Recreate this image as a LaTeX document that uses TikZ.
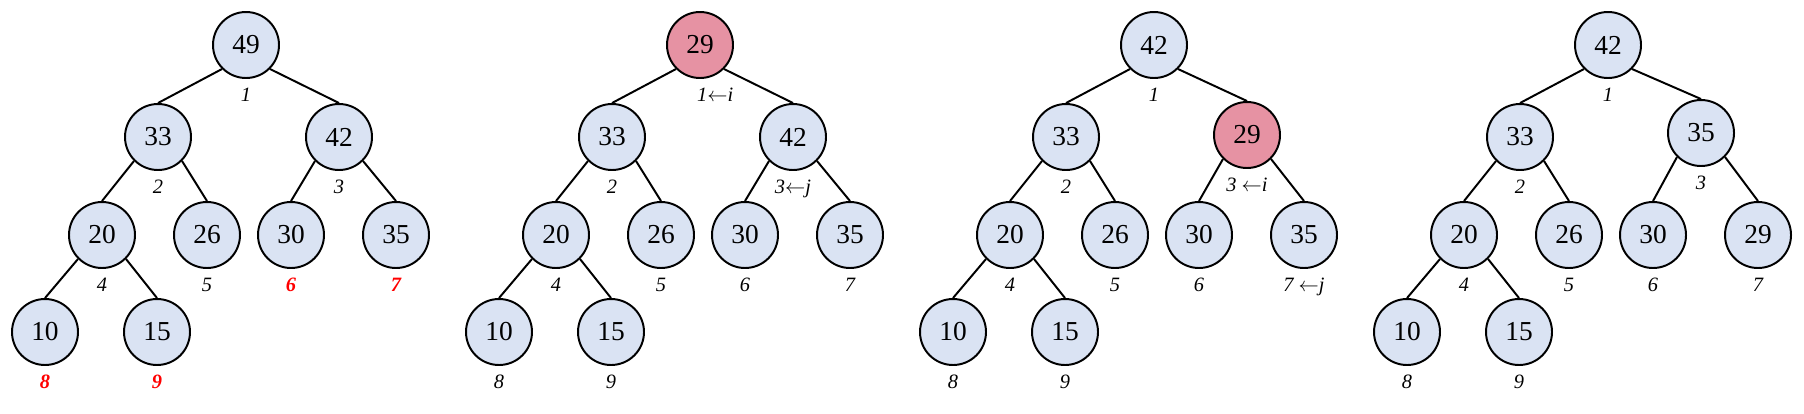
\documentclass[tikz,border=0pt]{standalone}
\usepackage{fontspec}
\setmainfont{Liberation Serif}
\usetikzlibrary{positioning}

\definecolor{heapblue}{RGB}{218,227,243}
\definecolor{heappink}{RGB}{230,146,163}

\tikzset{
  heapnode/.style={circle, draw=black, line width=1.4pt, fill=heapblue, minimum size=1.65cm, inner sep=0pt, font=\fontsize{19.5}{20}\selectfont},
  swapnode/.style={heapnode, fill=heappink},
  idx/.style={inner sep=0pt, font=\fontsize{14.5}{15}\selectfont\itshape},
  idxred/.style={idx, text=red, font=\fontsize{14.5}{15}\selectfont\bfseries\itshape},
  heapedge/.style={line width=1.4pt}
}

\begin{document}
\begin{tikzpicture}[label distance=0.22cm]

\useasboundingbox (0,0) rectangle (45.1,-10.325);

% tree 1: the heap before deletion
\def\offset{0}
 \node[heapnode, label={[idx]below:1}] (a1) at ({6.15+\offset}, -1.125) {49};
 \node[heapnode, label={[idx]below:2}] (a2) at ({3.95+\offset}, -3.425) {33};
 \node[heapnode, label={[idx]below:3}] (a3) at ({8.475+\offset}, -3.425) {42};
 \node[heapnode, label={[idx]below:4}] (a4) at ({2.55+\offset}, -5.875) {20};
 \node[heapnode, label={[idx]below:5}] (a5) at ({5.175+\offset}, -5.875) {26};
 \node[heapnode, label={[idxred]below:6}] (a6) at ({7.275+\offset}, -5.875) {30};
 \node[heapnode, label={[idxred]below:7}] (a7) at ({9.9+\offset}, -5.875) {35};
 \node[heapnode, label={[idxred]below:8}] (a8) at ({1.125+\offset}, -8.3) {10};
 \node[heapnode, label={[idxred]below:9}] (a9) at ({3.925+\offset}, -8.3) {15};
 \foreach \p/\c/\s in {1/2/west, 1/3/east, 2/4/west, 2/5/east, 3/6/west, 3/7/east, 4/8/west, 4/9/east}
  \draw[heapedge] (a\p.south \s) -- (a\c.north);

% tree 2: last element moved to the root
\def\offset{11.35}
 \node[swapnode, label={[idx, xshift=0.38cm]below:1$\leftarrow$\textit{i}}] (b1) at ({6.15+\offset}, -1.125) {29};
 \node[heapnode, label={[idx]below:2}] (b2) at ({3.95+\offset}, -3.425) {33};
 \node[heapnode, label={[idx]below:3$\leftarrow$\textit{j}}] (b3) at ({8.475+\offset}, -3.425) {42};
 \node[heapnode, label={[idx]below:4}] (b4) at ({2.55+\offset}, -5.875) {20};
 \node[heapnode, label={[idx]below:5}] (b5) at ({5.175+\offset}, -5.875) {26};
 \node[heapnode, label={[idx]below:6}] (b6) at ({7.275+\offset}, -5.875) {30};
 \node[heapnode, label={[idx]below:7}] (b7) at ({9.9+\offset}, -5.875) {35};
 \node[heapnode, label={[idx]below:8}] (b8) at ({1.125+\offset}, -8.3) {10};
 \node[heapnode, label={[idx]below:9}] (b9) at ({3.925+\offset}, -8.3) {15};
 \foreach \p/\c/\s in {1/2/west, 1/3/east, 2/4/west, 2/5/east, 3/6/west, 3/7/east, 4/8/west, 4/9/east}
  \draw[heapedge] (b\p.south \s) -- (b\c.north);

% tree 3: after the first swap
\def\offset{22.7}
 \node[heapnode, label={[idx]below:1}] (c1) at ({6.15+\offset}, -1.125) {42};
 \node[heapnode, label={[idx]below:2}] (c2) at ({3.95+\offset}, -3.425) {33};
 \node[swapnode, label={[idx]below:3 $\leftarrow$\textit{i}}] (c3) at ({8.475+\offset}, -3.375) {29};
 \node[heapnode, label={[idx]below:4}] (c4) at ({2.55+\offset}, -5.875) {20};
 \node[heapnode, label={[idx]below:5}] (c5) at ({5.175+\offset}, -5.875) {26};
 \node[heapnode, label={[idx]below:6}] (c6) at ({7.275+\offset}, -5.875) {30};
 \node[heapnode, label={[idx]below:7 $\leftarrow$\textit{j}}] (c7) at ({9.9+\offset}, -5.875) {35};
 \node[heapnode, label={[idx]below:8}] (c8) at ({1.125+\offset}, -8.3) {10};
 \node[heapnode, label={[idx]below:9}] (c9) at ({3.925+\offset}, -8.3) {15};
 \foreach \p/\c/\s in {1/2/west, 1/3/east, 2/4/west, 2/5/east, 3/6/west, 3/7/east, 4/8/west, 4/9/east}
  \draw[heapedge] (c\p.south \s) -- (c\c.north);

% tree 4: heap restored
\def\offset{34.05}
 \node[heapnode, label={[idx]below:1}] (d1) at ({6.15+\offset}, -1.125) {42};
 \node[heapnode, label={[idx]below:2}] (d2) at ({3.95+\offset}, -3.425) {33};
 \node[heapnode, label={[idx]below:3}] (d3) at ({8.475+\offset}, -3.325) {35};
 \node[heapnode, label={[idx]below:4}] (d4) at ({2.55+\offset}, -5.875) {20};
 \node[heapnode, label={[idx]below:5}] (d5) at ({5.175+\offset}, -5.875) {26};
 \node[heapnode, label={[idx]below:6}] (d6) at ({7.275+\offset}, -5.875) {30};
 \node[heapnode, label={[idx]below:7}] (d7) at ({9.9+\offset}, -5.875) {29};
 \node[heapnode, label={[idx]below:8}] (d8) at ({1.125+\offset}, -8.3) {10};
 \node[heapnode, label={[idx]below:9}] (d9) at ({3.925+\offset}, -8.3) {15};
 \foreach \p/\c/\s in {1/2/west, 1/3/east, 2/4/west, 2/5/east, 3/6/west, 3/7/east, 4/8/west, 4/9/east}
  \draw[heapedge] (d\p.south \s) -- (d\c.north);

\end{tikzpicture}
\end{document}
